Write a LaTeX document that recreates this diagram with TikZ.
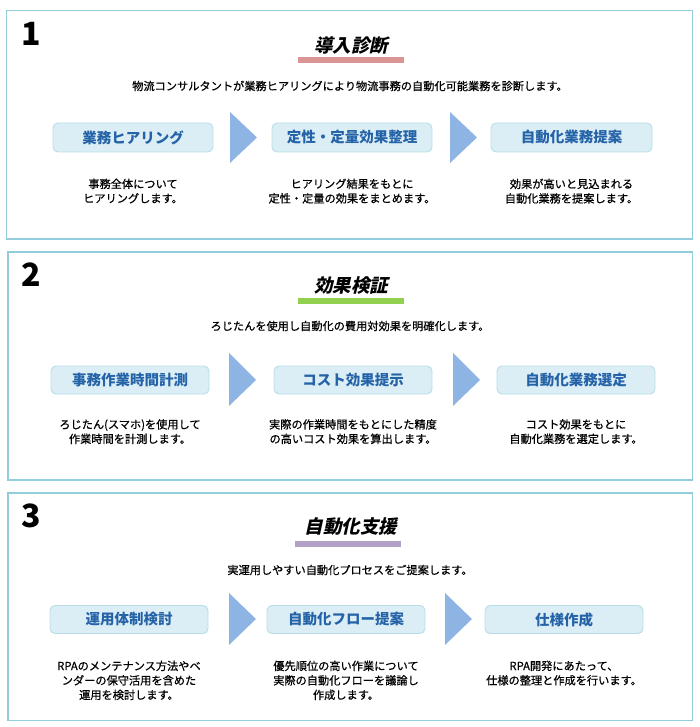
\documentclass[tikz,border=0pt]{standalone}
\usepackage{fontspec}
\newfontfamily\jp{Noto Sans CJK JP}
\newfontfamily\jpdark{Noto Sans CJK JP}[FakeBold=0.6]
\newfontfamily\jpslant{Noto Sans CJK JP}[FakeSlant=0.22]
\definecolor{panelc}{HTML}{92CDDC}
\definecolor{boxline}{HTML}{B7DDE8}
\definecolor{boxfill}{HTML}{DCEEF5}
\definecolor{boxtxt}{HTML}{2563A8}
\definecolor{arrowc}{HTML}{8EB4E3}
\definecolor{barone}{HTML}{D99594}
\definecolor{bartwo}{HTML}{92D050}
\definecolor{barthree}{HTML}{B2A1C7}
\tikzset{
  panel/.style={draw=panelc, line width=1.3pt},
  stepbox/.style={draw=boxline, fill=boxfill, rounded corners=5pt, line width=0.9pt,
    font=\jp\bfseries\fontsize{14.5}{16}\selectfont, text=boxtxt, inner sep=0pt},
  desc/.style={font=\jpdark\fontsize{11.2}{14.5}\selectfont, align=center, anchor=north, inner sep=0pt},
  subt/.style={font=\jpdark\fontsize{11.2}{13}\selectfont, inner sep=0pt},
  ttl/.style={font=\jpslant\bfseries\fontsize{18.5}{20}\selectfont, inner sep=0pt},
  num/.style={font=\jp\bfseries\fontsize{32}{33}\selectfont, inner sep=0pt},
  stepbar/.style={inner sep=0pt, minimum width=106pt, minimum height=6pt},
  steparrow/.style={fill=arrowc},
}
\begin{document}
\begin{tikzpicture}[x=1pt,y=-1pt]
\useasboundingbox (0,0) rectangle (700,727);
% ---------- Panel 1 ----------
\draw[panel] (6.5,10.5) rectangle (692.5,239);
\node[num] (n1) at (31,34) {1};
\node[ttl] (t1) at (351,45) {導入診断};
\node[stepbar, fill=barone] (bar1) at (351,60) {};
\node[subt] (s1) at (350,86) {物流コンサルタントが業務ヒアリングにより物流事務の自動化可能業務を診断します。};
\node[stepbox, minimum width=160pt, minimum height=29pt] (b11) at (133,137.5) {業務ヒアリング};
\node[stepbox, minimum width=160pt, minimum height=29pt] (b12) at (352,137.5) {定性・定量効果整理};
\node[stepbox, minimum width=161pt, minimum height=29pt] (b13) at (571.5,137.5) {自動化業務提案};
\fill[steparrow] (230,112) -- (257,137.5) -- (230,163) -- cycle;
\fill[steparrow] (450,112) -- (477,137.5) -- (450,163) -- cycle;
\node[desc] (d11) at (133,178.5) {事務全体について\\ヒアリングします。};
\node[desc] (d12) at (352,178.5) {ヒアリング結果をもとに\\定性・定量の効果をまとめます。};
\node[desc] (d13) at (571.5,178.5) {効果が高いと見込まれる\\自動化業務を提案します。};
% ---------- Panel 2 ----------
\draw[panel] (8,252) rectangle (692.5,480);
\node[num] (n2) at (31,275) {2};
\node[ttl] (t2) at (351,286) {効果検証};
\node[stepbar, fill=bartwo] (bar2) at (351,301) {};
\node[subt] (s2) at (350,326) {ろじたんを使用し自動化の費用対効果を明確化します。};
\node[stepbox, minimum width=158pt, minimum height=28pt] (b21) at (130,380) {事務作業時間計測};
\node[stepbox, minimum width=158pt, minimum height=28pt] (b22) at (353,380) {コスト効果提示};
\node[stepbox, minimum width=158pt, minimum height=28pt] (b23) at (576,380) {自動化業務選定};
\fill[steparrow] (229,353) -- (256,380) -- (229,406) -- cycle;
\fill[steparrow] (453,353) -- (480,380) -- (453,406) -- cycle;
\node[desc] (d21) at (130,419) {ろじたん(スマホ)を使用して\\作業時間を計測します。};
\node[desc] (d22) at (353,419) {実際の作業時間をもとにした精度\\の高いコスト効果を算出します。};
\node[desc] (d23) at (576,419) {コスト効果をもとに\\自動化業務を選定します。};
% ---------- Panel 3 ----------
\draw[panel] (8,493) rectangle (692.5,720.5);
\node[num] (n3) at (31,516) {3};
\node[ttl] (t3) at (351,527) {自動化支援};
\node[stepbar, fill=barthree] (bar3) at (348,543.5) {};
\node[subt] (s3) at (350,570) {実運用しやすい自動化プロセスをご提案します。};
\node[stepbox, minimum width=158pt, minimum height=28pt] (b31) at (129,619.5) {運用体制検討};
\node[stepbox, minimum width=158pt, minimum height=28pt] (b32) at (346,619.5) {自動化フロー提案};
\node[stepbox, minimum width=158pt, minimum height=28pt] (b33) at (564,619.5) {仕様作成};
\fill[steparrow] (229,593) -- (256,619) -- (229,645) -- cycle;
\fill[steparrow] (445,593) -- (472,619) -- (445,645) -- cycle;
\node[desc] (d31) at (129,660.5) {RPAのメンテナンス方法やベ\\ンダーの保守活用を含めた\\運用を検討します。};
\node[desc] (d32) at (346,660.5) {優先順位の高い作業について\\実際の自動化フローを議論し\\作成します。};
\node[desc] (d33) at (564,660.5) {RPA開発にあたって、\\仕様の整理と作成を行います。};
\end{tikzpicture}
\end{document}
